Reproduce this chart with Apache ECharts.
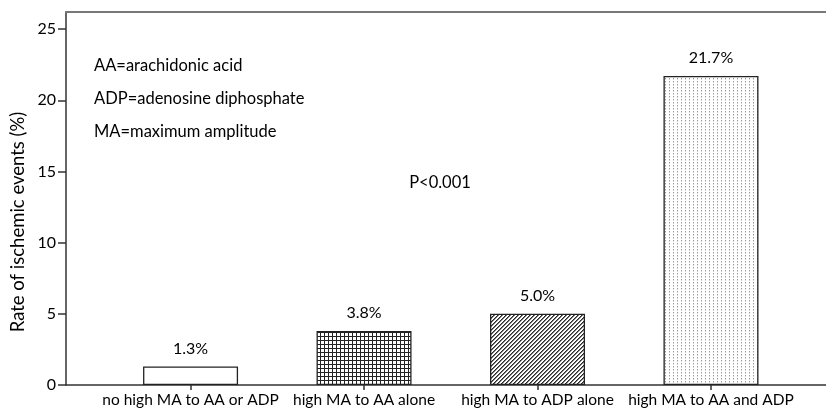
<!DOCTYPE html>
<html><head><meta charset="utf-8">
<script src="https://cdn.jsdelivr.net/npm/echarts@6/dist/echarts.min.js"></script>
<style>html,body{margin:0;padding:0;background:#fff}#c{width:826px;height:410px}</style>
</head><body><div id="c"></div>
<script>
var categories = ['no high MA to AA or ADP', 'high MA to AA alone', 'high MA to ADP alone', 'high MA to AA and ADP'];
var values = [1.3, 3.8, 5.0, 21.7];
var valueLabels = ['1.3%', '3.8%', '5.0%', '21.7%'];
var yTicks = [0, 5, 10, 15, 20, 25];
var notes = ['AA=arachidonic acid', 'ADP=adenosine diphosphate', 'MA=maximum amplitude'];
var pText = 'P<0.001';
var yTitle = 'Rate of ischemic events (%)';

var FONT = 'Lato';
function tile(w, h, draw) {
  var c = document.createElement('canvas'); c.width = w; c.height = h;
  var g = c.getContext('2d'); g.fillStyle = '#fff'; g.fillRect(0, 0, w, h); draw(g); return c;
}
var patWhite = '#ffffff';
var patGrid = tile(4, 4, function (g) { g.fillStyle = '#222'; g.fillRect(0, 0, 4, 1); g.fillRect(0, 0, 1, 4); });
var patDiag = tile(4, 4, function (g) {
  for (var x = 0; x < 4; x++) for (var y = 0; y < 4; y++) {
    var m = (x + y) % 4;
    if (m === 0) { g.fillStyle = '#2a2a2a'; g.fillRect(x, y, 1, 1); }
    else if (m === 1) { g.fillStyle = '#777'; g.fillRect(x, y, 1, 1); }
  }
});
var patDots = tile(4, 3, function (g) { g.fillStyle = '#9a9a9a'; g.fillRect(1, 0, 1, 1); g.fillStyle = '#d0d0d0'; g.fillRect(1, 1, 1, 1); });
var fills = [patWhite, { image: patGrid, repeat: 'repeat' }, { image: patDiag, repeat: 'repeat' }, { image: patDots, repeat: 'repeat' }];

var chart = echarts.init(document.getElementById('c'), null, { renderer: 'canvas' });
var xMin = -0.718, xMax = 3.663;
var TXT = '#000';
chart.setOption({
  animation: false,
  grid: { left: 66, right: 0, top: 12, bottom: 25, containLabel: false },
  xAxis: [{
    type: 'value', min: xMin, max: xMax, splitLine: { show: false },
    axisLine: { show: true, onZero: false, lineStyle: { color: '#333', width: 1.5 } },
    axisTick: { show: true, customValues: [0, 1, 2, 3], length: 5, lineStyle: { color: '#333', width: 1.5 } },
    axisLabel: { show: true, customValues: [0, 1, 2, 3], margin: 7, color: TXT, fontFamily: FONT, fontSize: 15.5,
      formatter: function (v) { return categories[Math.round(v)]; } }
  }, {
    type: 'value', position: 'top', min: xMin, max: xMax, splitLine: { show: false },
    axisLine: { show: true, onZero: false, lineStyle: { color: '#777', width: 2 } }, axisTick: { show: false }, axisLabel: { show: false }
  }],
  yAxis: {
    type: 'value', min: 0, max: 26.2, interval: 5, splitLine: { show: false },
    axisLine: { show: true, onZero: false, lineStyle: { color: '#333', width: 1.5 } },
    axisTick: { show: true, customValues: yTicks, length: 8, lineStyle: { color: '#333', width: 1.5 } },
    axisLabel: { customValues: yTicks, margin: 10, color: TXT, fontFamily: FONT, fontSize: 16 }
  },
  series: [{
    type: 'bar', barWidth: 95, xAxisIndex: 0,
    data: values.map(function (v, i) { return { value: [i, v], itemStyle: { color: fills[i] } }; }),
    itemStyle: { borderColor: '#222', borderWidth: 1.3 },
    label: { show: true, position: 'top', distance: 10, color: TXT, fontFamily: FONT, fontSize: 16,
      formatter: function (p) { return valueLabels[p.dataIndex]; } }
  }],
  graphic: [
    { type: 'text', x: 94, y: 66, style: { text: notes[0], fill: TXT, font: '16.5px ' + FONT, textVerticalAlign: 'middle' } },
    { type: 'text', x: 94, y: 99, style: { text: notes[1], fill: TXT, font: '16.5px ' + FONT, textVerticalAlign: 'middle' } },
    { type: 'text', x: 94, y: 132, style: { text: notes[2], fill: TXT, font: '16.5px ' + FONT, textVerticalAlign: 'middle' } },
    { type: 'text', x: 440, y: 183, style: { text: pText, fill: TXT, font: '16.5px ' + FONT, textAlign: 'center', textVerticalAlign: 'middle' } },
    { type: 'text', x: 18, y: 222, rotation: Math.PI / 2, style: { text: yTitle, fill: TXT, font: '18.5px ' + FONT, textAlign: 'center', textVerticalAlign: 'middle' } }
  ]
});
</script></body></html>
